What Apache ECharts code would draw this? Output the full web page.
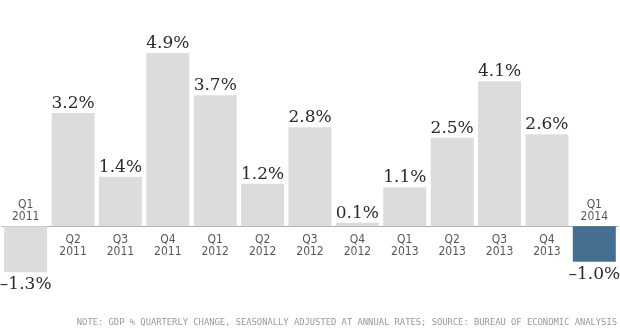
<!DOCTYPE html>
<html>
<head>
<meta charset="utf-8">
<style>html,body{margin:0;padding:0;background:#fff;}#chart{width:620px;height:328px;}</style>
<script src="https://cdn.jsdelivr.net/npm/echarts@6/dist/echarts.min.js"></script>
</head>
<body>
<div id="chart"></div>
<script>
const quarters = ['Q1','Q2','Q3','Q4','Q1','Q2','Q3','Q4','Q1','Q2','Q3','Q4','Q1'];
const years = ['2011','2011','2011','2011','2012','2012','2012','2012','2013','2013','2013','2013','2014'];
const values = [-1.3, 3.2, 1.4, 4.9, 3.7, 1.2, 2.8, 0.1, 1.1, 2.5, 4.1, 2.6, -1.0];
const note = 'NOTE: GDP % QUARTERLY CHANGE, SEASONALLY ADJUSTED AT ANNUAL RATES; SOURCE: BUREAU OF ECONOMIC ANALYSIS';

// pick an installed condensed font for the category labels
function hasFont(name) {
  const c = document.createElement('canvas').getContext('2d');
  const s = 'Q1 2011 2012 abcdefghijklm';
  c.font = '40px monospace'; const a = c.measureText(s).width;
  c.font = '40px "' + name + '", monospace'; const b = c.measureText(s).width;
  c.font = '40px serif'; const d = c.measureText(s).width;
  c.font = '40px "' + name + '", serif'; const e = c.measureText(s).width;
  return a !== b || d !== e;
}
let catFont = 'DejaVu Sans Condensed', catSize = 12;
if (hasFont('Liberation Sans Narrow')) { catFont = 'Liberation Sans Narrow'; catSize = 13; }

const categories = quarters.map((q, i) => q + '\n' + years[i]);
const GRAY = '#dcdcdc', BLUE = '#446f91';
const chart = echarts.init(document.getElementById('chart'));
chart.setOption({
  animation: false,
  grid: { left: 2, width: 616, top: 14, bottom: 31 },
  xAxis: {
    type: 'category', data: categories,
    axisLabel: { show: false }, axisTick: { show: false },
    axisLine: { onZero: true, lineStyle: { color: '#aaaaaa', width: 1 } }
  },
  yAxis: { type: 'value', min: -2, max: 6, show: false, splitLine: { show: false } },
  series: [
    {
      type: 'bar', barWidth: 43,
      data: values.map((v, i) => ({
        value: v,
        itemStyle: { color: i === values.length - 1 ? BLUE : GRAY },
        label: { position: v < 0 ? 'bottom' : 'top', distance: v < 0 ? 4 : 1 }
      })),
      label: {
        show: true,
        fontFamily: 'DejaVu Serif', fontSize: 17, lineHeight: 17, color: '#2a2a2a',
        formatter: p => (p.value < 0 ? '\u2013' : '') + Math.abs(p.value).toFixed(1) + '%'
      }
    },
    {
      type: 'scatter', symbolSize: 1, itemStyle: { color: 'transparent' },
      data: values.map((v, i) => ({
        value: [i, 0],
        label: { position: v < 0 ? 'top' : 'bottom', distance: v < 0 ? 3 : 7 }
      })),
      label: {
        show: true,
        fontFamily: catFont,
        fontSize: catSize, lineHeight: 12, color: '#2a2a2a', align: 'center',
        formatter: p => categories[p.dataIndex]
      },
      z: 5
    }
  ],
  graphic: [{
    type: 'text', right: 3, bottom: 1,
    style: { text: note, fontFamily: 'DejaVu Sans Mono', fontSize: 8.8, fill: '#999' }
  }]
});
</script>
</body>
</html>
